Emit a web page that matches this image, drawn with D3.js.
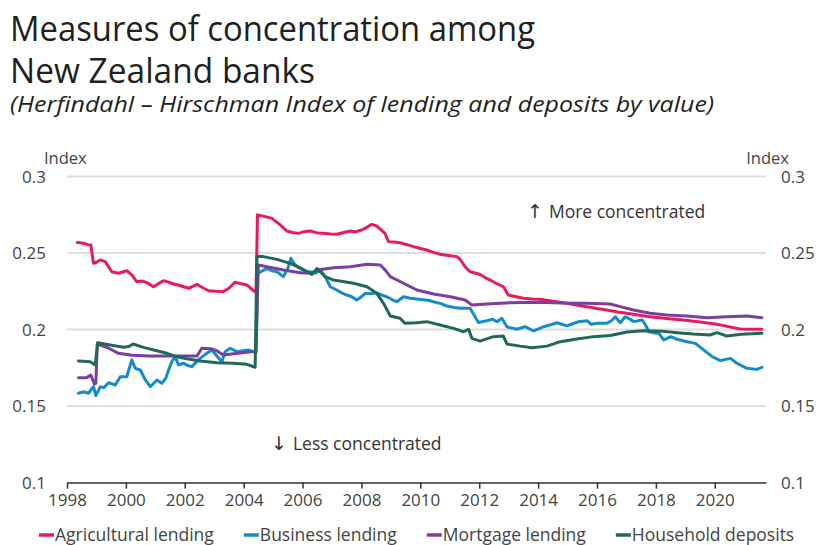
<!DOCTYPE html>
<html>
<head>
<meta charset="utf-8">
<script src="https://cdn.jsdelivr.net/npm/d3@7"></script>
<style>
  html, body { margin: 0; padding: 0; background: #fff; }
  svg { display: block; }
  text { font-family: "Open Sans", "Noto Sans", sans-serif; }
</style>
</head>
<body>
<svg id="chart" width="818" height="545"></svg>
<script>
// Herfindahl–Hirschman Index by series, as [decimal year, index] pairs
const agricultural = [[1998.35,0.257],[1998.56,0.2565],[1998.70,0.2555],[1998.81,0.2553],[1998.90,0.2433],[1999.00,0.2440],[1999.13,0.2455],[1999.30,0.2444],[1999.52,0.2378],[1999.75,0.2368],[2000.03,0.2385],[2000.2,0.2357],[2000.37,0.2313],[2000.55,0.2318],[2000.71,0.2307],[2000.94,0.2280],[2001.1,0.2300],[2001.28,0.2320],[2001.45,0.2310],[2001.62,0.2298],[2001.80,0.2290],[2001.96,0.2280],[2002.13,0.2270],[2002.41,0.2296],[2002.6,0.2275],[2002.81,0.2254],[2003.05,0.2250],[2003.31,0.2248],[2003.5,0.2270],[2003.71,0.2310],[2003.9,0.2300],[2004.11,0.2292],[2004.33,0.2254],[2004.42,0.2245],[2004.47,0.2750],[2004.7,0.2740],[2004.96,0.2727],[2005.24,0.2684],[2005.47,0.2644],[2005.66,0.2635],[2005.86,0.2629],[2006.05,0.2640],[2006.26,0.2644],[2006.5,0.2632],[2006.71,0.2629],[2006.95,0.2625],[2007.17,0.2623],[2007.4,0.2635],[2007.62,0.2644],[2007.8,0.2640],[2008.01,0.2651],[2008.2,0.2670],[2008.35,0.2688],[2008.52,0.2677],[2008.65,0.2655],[2008.80,0.2629],[2008.92,0.2575],[2009.1,0.2573],[2009.31,0.2568],[2009.55,0.2555],[2009.77,0.2542],[2010.0,0.2530],[2010.22,0.2520],[2010.45,0.2505],[2010.67,0.2492],[2010.95,0.2485],[2011.24,0.2477],[2011.35,0.2460],[2011.52,0.2411],[2011.69,0.2378],[2011.86,0.2370],[2012.03,0.2360],[2012.2,0.2340],[2012.37,0.2324],[2012.6,0.2300],[2012.82,0.2280],[2012.99,0.2226],[2013.25,0.2215],[2013.5,0.2205],[2013.8,0.2200],[2014.07,0.2198],[2014.5,0.2185],[2014.98,0.2172],[2015.3,0.2160],[2015.66,0.2150],[2016.0,0.2138],[2016.33,0.2128],[2016.7,0.2115],[2017.01,0.2107],[2017.4,0.2095],[2017.8,0.2084],[2018.35,0.2073],[2018.93,0.2063],[2019.5,0.2050],[2020.07,0.2035],[2020.5,0.2018],[2020.86,0.2004],[2021.2,0.2003],[2021.6,0.2002]];

const business = [[1998.39,0.1584],[1998.56,0.1594],[1998.73,0.1584],[1998.90,0.1627],[1998.98,0.1568],[1999.13,0.1627],[1999.25,0.1620],[1999.41,0.1653],[1999.64,0.1638],[1999.81,0.1692],[2000.03,0.1692],[2000.2,0.1801],[2000.32,0.1747],[2000.49,0.1736],[2000.66,0.1671],[2000.83,0.1627],[2001.05,0.1671],[2001.22,0.1649],[2001.35,0.1680],[2001.45,0.1736],[2001.56,0.1790],[2001.67,0.1823],[2001.79,0.1769],[2001.96,0.1780],[2002.1,0.1765],[2002.24,0.1758],[2002.52,0.1812],[2002.75,0.1845],[2002.92,0.1867],[2003.09,0.1827],[2003.26,0.1790],[2003.37,0.1856],[2003.54,0.1878],[2003.77,0.1856],[2003.99,0.1862],[2004.16,0.1867],[2004.33,0.1856],[2004.42,0.1850],[2004.47,0.2368],[2004.6,0.2380],[2004.79,0.2400],[2004.95,0.2385],[2005.13,0.2378],[2005.35,0.2346],[2005.5,0.2400],[2005.60,0.2466],[2005.75,0.2422],[2005.92,0.2400],[2006.1,0.2375],[2006.26,0.2378],[2006.45,0.2370],[2006.6,0.2389],[2006.77,0.2346],[2006.94,0.2280],[2007.16,0.2259],[2007.33,0.2240],[2007.5,0.2226],[2007.67,0.2215],[2007.84,0.2193],[2008.0,0.2215],[2008.13,0.2237],[2008.3,0.2235],[2008.52,0.2240],[2008.7,0.2225],[2008.86,0.2215],[2009.05,0.2195],[2009.2,0.2182],[2009.43,0.2215],[2009.65,0.2205],[2009.88,0.2200],[2010.1,0.2195],[2010.3,0.2190],[2010.45,0.2182],[2010.7,0.2170],[2010.91,0.2154],[2011.15,0.2145],[2011.36,0.2139],[2011.69,0.2139],[2011.86,0.2084],[2011.97,0.2047],[2012.26,0.2058],[2012.45,0.2068],[2012.6,0.2052],[2012.77,0.2074],[2012.94,0.2019],[2013.1,0.2010],[2013.28,0.2002],[2013.56,0.2019],[2013.85,0.1991],[2014.19,0.2019],[2014.4,0.2030],[2014.64,0.2045],[2014.98,0.2024],[2015.2,0.2040],[2015.38,0.2052],[2015.66,0.2058],[2015.8,0.2035],[2016.0,0.2041],[2016.34,0.2041],[2016.5,0.2060],[2016.62,0.2084],[2016.79,0.2045],[2016.96,0.2084],[2017.1,0.2070],[2017.25,0.2052],[2017.53,0.2063],[2017.65,0.2030],[2017.76,0.1986],[2017.9,0.1980],[2018.1,0.1976],[2018.27,0.1932],[2018.5,0.1954],[2018.72,0.1937],[2019.06,0.1921],[2019.34,0.1910],[2019.62,0.1867],[2019.91,0.1823],[2020.19,0.1797],[2020.53,0.1812],[2020.75,0.1780],[2021.09,0.1747],[2021.43,0.1740],[2021.6,0.1753]];

const mortgage = [[1998.39,0.1686],[1998.67,0.1686],[1998.81,0.1703],[1998.93,0.1644],[1998.98,0.1650],[1999.03,0.1906],[1999.4,0.1880],[1999.75,0.1845],[2000.2,0.1832],[2000.8,0.1828],[2001.5,0.1827],[2002.0,0.1827],[2002.41,0.1827],[2002.58,0.1878],[2002.9,0.1875],[2003.1,0.1860],[2003.31,0.1834],[2003.8,0.1845],[2004.33,0.1856],[2004.42,0.1858],[2004.5,0.2422],[2004.79,0.2411],[2005.35,0.2389],[2005.92,0.2372],[2006.32,0.2368],[2006.49,0.2389],[2007.05,0.2404],[2007.62,0.2411],[2008.19,0.2427],[2008.64,0.2422],[2008.81,0.2389],[2008.98,0.2346],[2009.43,0.2303],[2009.88,0.2259],[2010.45,0.2233],[2011.02,0.2215],[2011.52,0.2193],[2011.75,0.2161],[2012.26,0.2167],[2013.05,0.2176],[2014.07,0.2178],[2014.98,0.2172],[2015.66,0.2172],[2016.45,0.2167],[2016.79,0.2150],[2017.24,0.2128],[2017.8,0.2107],[2018.37,0.2095],[2019.05,0.2089],[2019.73,0.2078],[2020.41,0.2084],[2021.09,0.2089],[2021.6,0.2078]];

const household = [[1998.39,0.1795],[1998.79,0.1790],[1998.96,0.1769],[1999.04,0.1914],[1999.47,0.1899],[1999.92,0.1884],[2000.1,0.1890],[2000.24,0.1906],[2000.6,0.1884],[2001.05,0.1862],[2001.39,0.1845],[2001.73,0.1823],[2002.07,0.1810],[2002.52,0.1795],[2003.09,0.1784],[2003.65,0.1780],[2004.11,0.1773],[2004.39,0.1754],[2004.45,0.2477],[2004.67,0.2477],[2005.13,0.2459],[2005.58,0.2433],[2005.92,0.2404],[2006.32,0.2361],[2006.49,0.2400],[2006.77,0.2346],[2007.05,0.2324],[2007.73,0.2303],[2008.19,0.2280],[2008.52,0.2237],[2008.75,0.2172],[2008.98,0.2089],[2009.31,0.2074],[2009.48,0.2041],[2009.88,0.2045],[2010.22,0.2052],[2010.67,0.2030],[2011.13,0.2008],[2011.47,0.1986],[2011.58,0.1997],[2011.64,0.2002],[2011.75,0.1943],[2012.03,0.1925],[2012.48,0.1954],[2012.82,0.1958],[2012.94,0.1906],[2013.39,0.1892],[2013.79,0.1882],[2014.30,0.1892],[2014.75,0.1921],[2015.32,0.1939],[2015.88,0.1954],[2016.45,0.1962],[2017.02,0.1984],[2017.58,0.1993],[2018.2,0.1990],[2018.72,0.1980],[2019.27,0.1971],[2019.84,0.1965],[2020.07,0.1980],[2020.41,0.1958],[2020.9,0.1969],[2021.6,0.1976]];

const seriesNames = ["Agricultural lending", "Business lending", "Mortgage lending", "Household deposits"];
const seriesColors = ["#ea1a5e", "#148ccc", "#7b3f9f", "#21685a"];
const yTicks = [0.1, 0.15, 0.2, 0.25, 0.3];
const xTicks = [1998, 2000, 2002, 2004, 2006, 2008, 2010, 2012, 2014, 2016, 2018, 2020];

const seriesData = [agricultural, business, mortgage, household];

const svg = d3.select("#chart");
const x = d3.scaleLinear().domain([1998, 2021.74]).range([67, 766]);
const y = d3.scaleLinear().domain([0.1, 0.3]).range([482.6, 176.6]);

// Titles
const titleFont = "Lato, 'Open Sans', sans-serif";
svg.append("text").attr("x", 10).attr("y", 41)
  .attr("font-family", titleFont).attr("font-size", 34).attr("fill", "#231f20")
  .attr("textLength", 525).attr("lengthAdjust", "spacingAndGlyphs")
  .text("Measures of concentration among");
svg.append("text").attr("x", 10).attr("y", 83)
  .attr("font-family", titleFont).attr("font-size", 34).attr("fill", "#231f20")
  .attr("textLength", 305).attr("lengthAdjust", "spacingAndGlyphs")
  .text("New Zealand banks");
svg.append("text").attr("x", 10).attr("y", 112)
  .attr("font-family", titleFont).attr("font-size", 21).attr("font-style", "italic").attr("fill", "#231f20")
  .attr("textLength", 704).attr("lengthAdjust", "spacingAndGlyphs")
  .text("(Herfindahl \u2013 Hirschman Index of lending and deposits by value)");

// Gridlines
svg.append("g").selectAll("line")
  .data(yTicks.filter(d => d > 0.1))
  .join("line")
  .attr("x1", x.range()[0]).attr("x2", x.range()[1])
  .attr("y1", d => y(d)).attr("y2", d => y(d))
  .attr("stroke", "#dedede").attr("stroke-width", 2);

// Left and right value axes (labels only)
const yFmt = d => String(+d.toFixed(2));
const leftAxis = d3.axisLeft(y).tickValues(yTicks).tickFormat(yFmt).tickSize(0).tickPadding(0);
const rightAxis = d3.axisRight(y).tickValues(yTicks).tickFormat(yFmt).tickSize(0).tickPadding(0);
const gl = svg.append("g").attr("transform", "translate(46,0)").call(leftAxis);
const gr = svg.append("g").attr("transform", "translate(781,0)").call(rightAxis);
[gl, gr].forEach(g => {
  g.select(".domain").remove();
  g.selectAll("text").attr("font-size", 17).attr("fill", "#444")
    .attr("font-family", "'Open Sans', sans-serif");
});

svg.append("text").attr("x", 44).attr("y", 164).attr("font-size", 16.5).attr("fill", "#444").text("Index");
svg.append("text").attr("x", 789).attr("y", 164).attr("font-size", 16.5).attr("fill", "#444")
  .attr("text-anchor", "end").text("Index");

// Bottom axis
const xAxis = d3.axisBottom(x).tickValues(xTicks).tickFormat(d3.format("d"))
  .tickSizeOuter(0).tickSizeInner(6).tickPadding(5);
const gx = svg.append("g").attr("transform", `translate(0,${y(0.1)})`).call(xAxis);
gx.select(".domain").attr("stroke", "#333").attr("stroke-width", 1.5);
gx.selectAll(".tick line").attr("stroke", "#333").attr("stroke-width", 1.5);
gx.selectAll("text").attr("font-size", 17).attr("fill", "#444")
  .attr("font-family", "'Open Sans', sans-serif");

// Direction annotations: arrow glyph plus label
function annotate(ax, ay, arrow, label) {
  const t = svg.append("text").attr("x", ax).attr("y", ay).attr("fill", "#333");
  t.append("tspan").attr("font-family", "'DejaVu Sans', sans-serif").attr("font-size", 19).text(arrow);
  t.append("tspan").attr("dx", 6).attr("font-size", 17.5).text(label);
}
annotate(527, 218, "\u2191", "More concentrated");
annotate(271, 450, "\u2193", "Less concentrated");

// Series lines
const line = d3.line().x(d => x(d[0])).y(d => y(d[1])).curve(d3.curveLinear);
svg.append("g").selectAll("path")
  .data(seriesData)
  .join("path")
  .attr("d", line)
  .attr("fill", "none")
  .attr("stroke", (d, i) => seriesColors[i])
  .attr("stroke-width", 3)
  .attr("stroke-linejoin", "round")
  .attr("stroke-linecap", "round");

// Legend, laid out left to right
const legend = svg.append("g");
let lx = 39;
seriesNames.forEach((name, i) => {
  legend.append("line")
    .attr("x1", lx).attr("x2", lx + 15).attr("y1", 535).attr("y2", 535)
    .attr("stroke", seriesColors[i]).attr("stroke-width", 3.5);
  const t = legend.append("text")
    .attr("x", lx + 16).attr("y", 541).attr("font-size", 17.5).attr("fill", "#444")
    .text(name);
  lx = lx + 16 + t.node().getComputedTextLength() + 30;
});
</script>
</body>
</html>
